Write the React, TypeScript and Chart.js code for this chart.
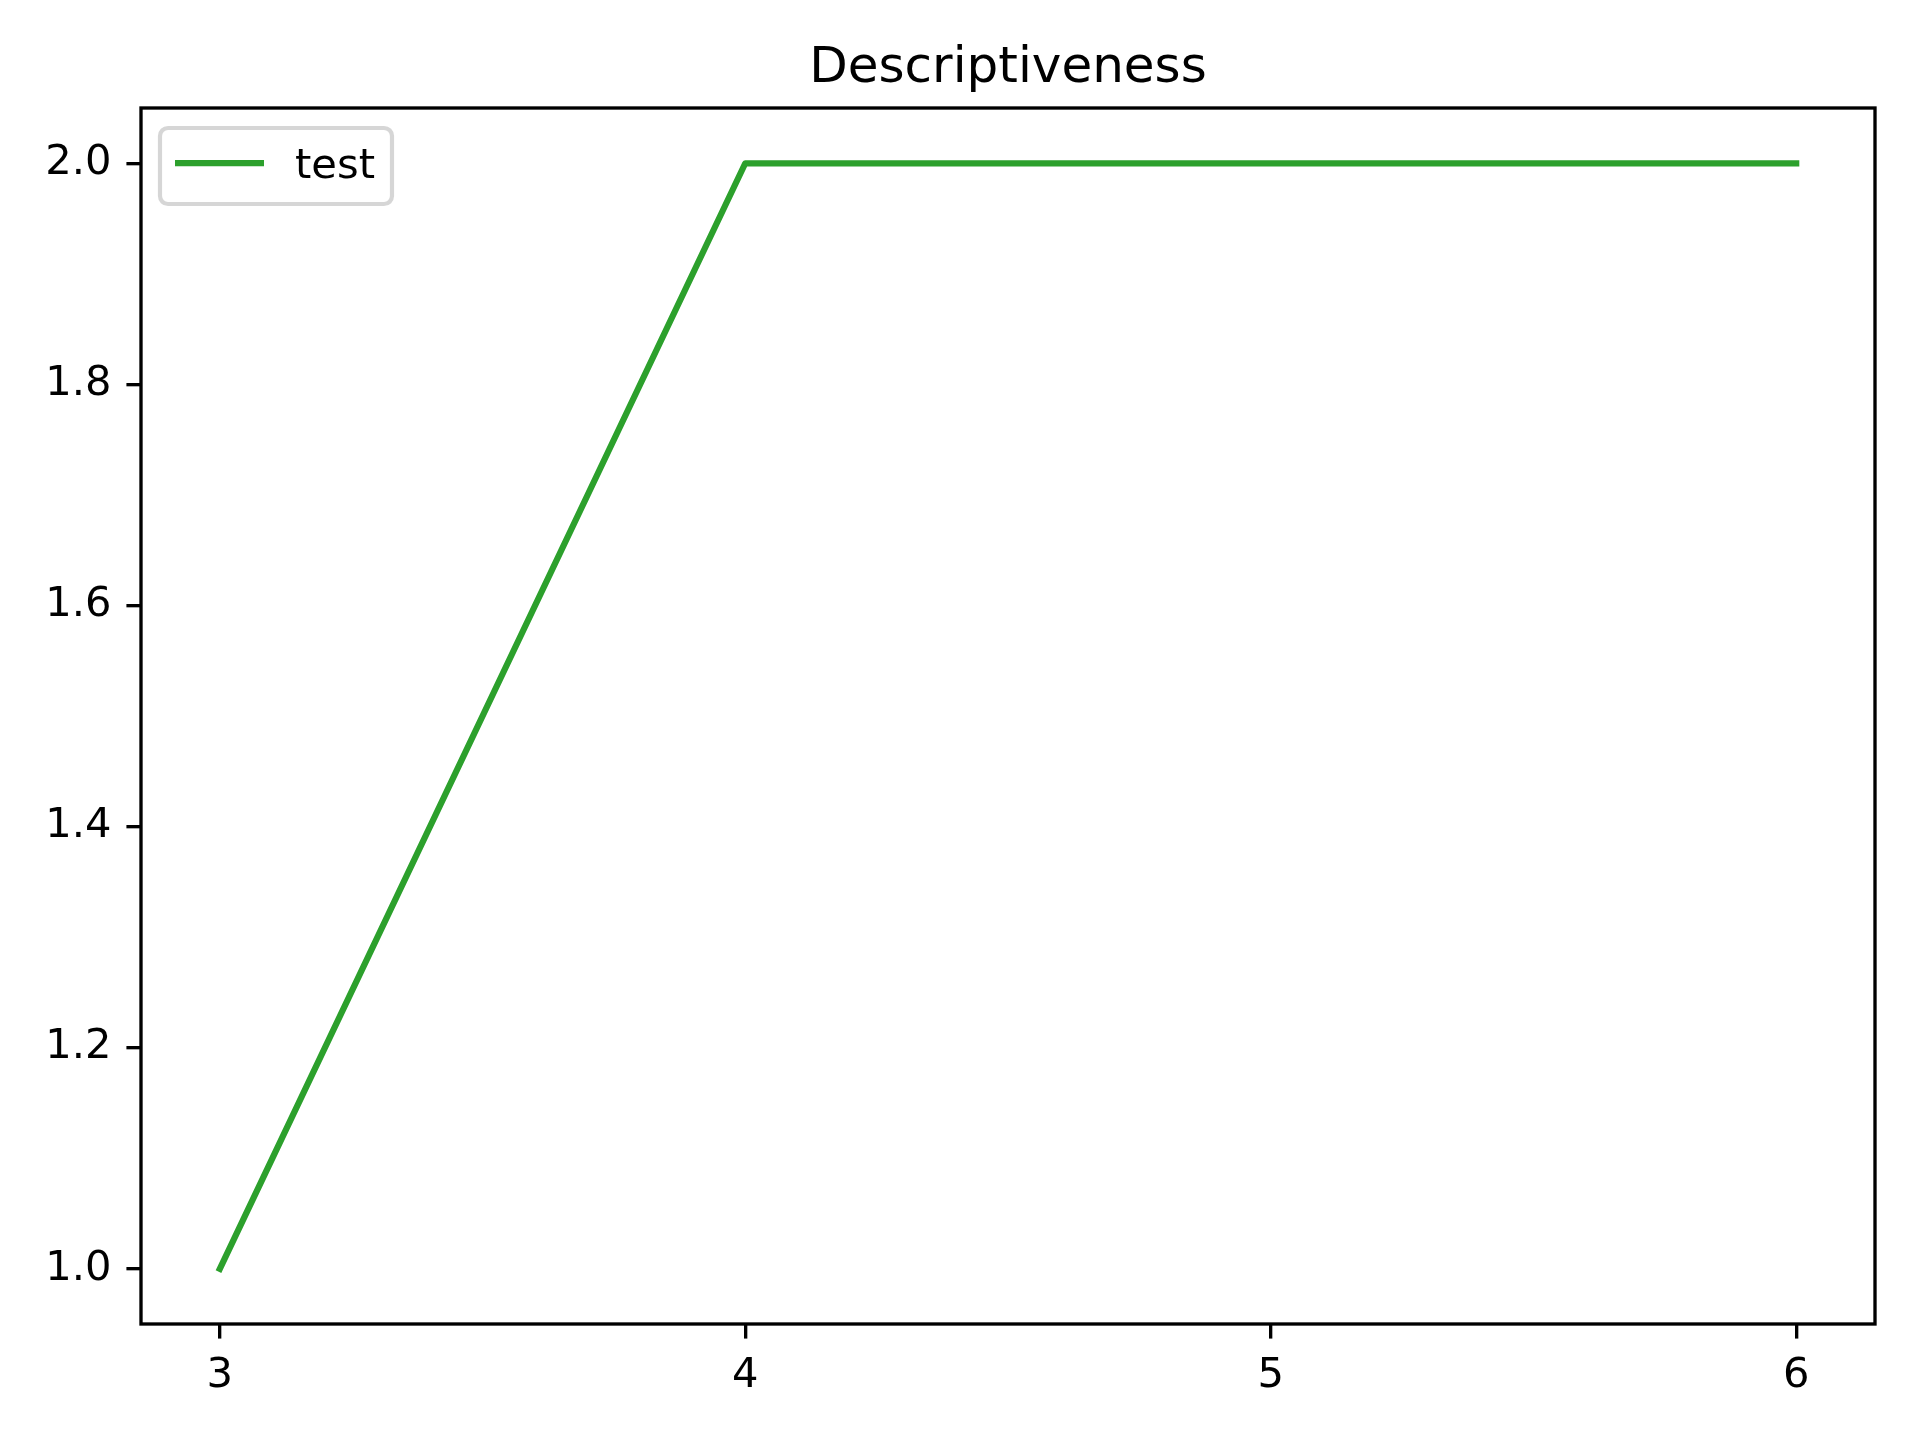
import React, { useEffect, useRef } from "react";
import { Chart, registerables } from "chart.js";

Chart.register(...registerables);

const chartTitle = "Descriptiveness";
const seriesLabel = "test";
const xValues = [3, 4, 5, 6];
const yValues = [1.0, 2.0, 2.0, 2.0];
const xTicks = [3, 4, 5, 6];
const yTicks = [1.0, 1.2, 1.4, 1.6, 1.8, 2.0];
const lineColor = "#2ca02c";

const FONT = "'DejaVu Sans', sans-serif";
const PT = 300 / 72;

const overlayPlugin = {
  id: "mplOverlay",
  afterDatasetsDraw(chart: any) {
    const { ctx, chartArea } = chart;
    const { left, right, top, bottom } = chartArea;
    ctx.save();
    // frame
    ctx.strokeStyle = "#000";
    ctx.lineWidth = 0.8 * PT;
    ctx.lineJoin = "miter";
    ctx.strokeRect(left, top, right - left, bottom - top);
    // title
    ctx.fillStyle = "#000";
    ctx.font = `${12 * PT}px ${FONT}`;
    ctx.textAlign = "center";
    ctx.textBaseline = "alphabetic";
    ctx.fillText(chartTitle, (left + right) / 2, 82);
    // legend
    const lx = left + 19;
    const ly = top + 20;
    const lw = 232;
    const lh = 76;
    const r = 8;
    ctx.beginPath();
    ctx.moveTo(lx + r, ly);
    ctx.lineTo(lx + lw - r, ly);
    ctx.arcTo(lx + lw, ly, lx + lw, ly + r, r);
    ctx.lineTo(lx + lw, ly + lh - r);
    ctx.arcTo(lx + lw, ly + lh, lx + lw - r, ly + lh, r);
    ctx.lineTo(lx + r, ly + lh);
    ctx.arcTo(lx, ly + lh, lx, ly + lh - r, r);
    ctx.lineTo(lx, ly + r);
    ctx.arcTo(lx, ly, lx + r, ly, r);
    ctx.closePath();
    ctx.fillStyle = "rgba(255,255,255,0.8)";
    ctx.fill();
    ctx.strokeStyle = "rgba(204,204,204,0.8)";
    ctx.lineWidth = 1.0 * PT;
    ctx.stroke();
    ctx.beginPath();
    ctx.strokeStyle = lineColor;
    ctx.lineWidth = 1.5 * PT;
    ctx.lineCap = "butt";
    ctx.moveTo(left + 34, top + 55);
    ctx.lineTo(left + 123, top + 55);
    ctx.stroke();
    ctx.fillStyle = "#000";
    ctx.font = `${10 * PT}px ${FONT}`;
    ctx.textAlign = "left";
    ctx.fillText(seriesLabel, left + 154, top + 70);
    ctx.restore();
  },
};

export default function App() {
  const ref = useRef<HTMLCanvasElement | null>(null);
  useEffect(() => {
    document.body.style.margin = "0";
    const canvas = ref.current;
    if (!canvas) return;
    const tickFont = { family: FONT, size: 10 * PT };
    const chart = new Chart(canvas, {
      type: "line",
      data: {
        datasets: [
          {
            label: seriesLabel,
            data: xValues.map((x, i) => ({ x, y: yValues[i] })),
            borderColor: lineColor,
            backgroundColor: lineColor,
            borderWidth: 1.5 * PT,
            borderCapStyle: "square",
            borderJoinStyle: "round",
            pointRadius: 0,
            tension: 0,
            fill: false,
          },
        ],
      },
      options: {
        animation: false,
        responsive: false,
        devicePixelRatio: 1,
        layout: { padding: { top: 108, right: 45, left: 0, bottom: 0 } },
        plugins: {
          legend: { display: false },
          title: { display: false },
          tooltip: { enabled: false },
        },
        scales: {
          x: {
            type: "linear",
            min: 2.85,
            max: 6.15,
            afterBuildTicks: (s: any) => {
              s.ticks = xTicks.map((v) => ({ value: v }));
            },
            afterFit: (s: any) => {
              s.height = 116;
            },
            ticks: {
              font: tickFont,
              color: "#000",
              padding: 13,
              maxRotation: 0,
              autoSkip: false,
              callback: (v: any) => String(v),
            },
            grid: {
              drawOnChartArea: false,
              drawTicks: true,
              tickLength: 3.5 * PT,
              tickWidth: 0.8 * PT,
              lineWidth: 0.8 * PT,
              tickColor: "#000",
              color: "#000",
            },
            border: { display: false },
          },
          y: {
            type: "linear",
            min: 0.95,
            max: 2.05,
            afterBuildTicks: (s: any) => {
              s.ticks = yTicks.map((v) => ({ value: v }));
            },
            afterFit: (s: any) => {
              s.width = 141;
            },
            ticks: {
              font: tickFont,
              color: "#000",
              padding: 15,
              autoSkip: false,
              callback: (v: any) => Number(v).toFixed(1),
            },
            grid: {
              drawOnChartArea: false,
              drawTicks: true,
              tickLength: 3.5 * PT,
              tickWidth: 0.8 * PT,
              lineWidth: 0.8 * PT,
              tickColor: "#000",
              color: "#000",
            },
            border: { display: false },
          },
        },
      },
      plugins: [overlayPlugin],
    } as any);
    return () => chart.destroy();
  }, []);
  return (
    <div style={{ position: "absolute", left: 0, top: 0, width: 1920, height: 1440, background: "#fff" }}>
      <canvas ref={ref} width={1920} height={1440} style={{ width: 1920, height: 1440, display: "block" }} />
    </div>
  );
}
